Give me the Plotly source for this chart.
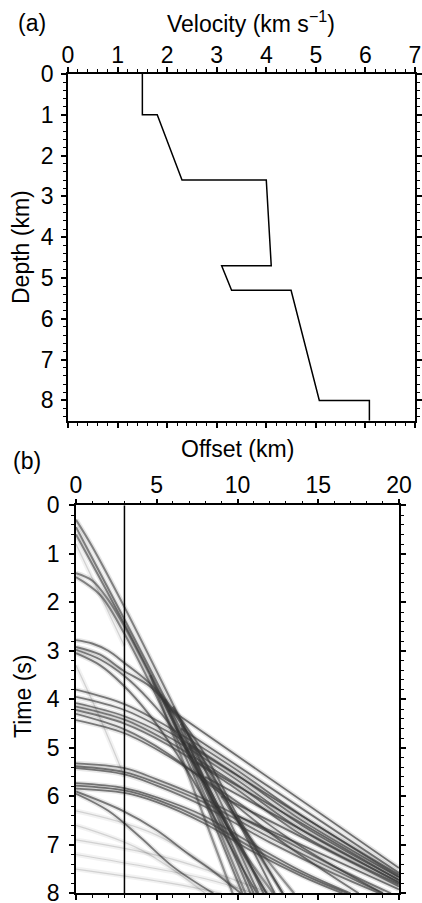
import plotly.graph_objects as go
from plotly.subplots import make_subplots

# (a) velocity profile
velocity = [1.5, 1.5, 1.8, 2.3, 4.0, 4.1, 3.1, 3.3, 4.5, 5.07, 6.08, 6.08]
depth = [0.0, 1.0, 1.0, 2.6, 2.6, 4.7, 4.7, 5.3, 5.3, 8.0, 8.0, 8.5]

receiver_offset = 3.0

steep_curves = [
    ([0, 1, 3, 6, 9, 11.6], [0.30, 0.85, 2.10, 4.10, 6.15, 8.0]),
    ([0, 3, 6, 9, 11.3], [0.45, 2.35, 4.30, 6.35, 8.0]),
    ([0, 3, 6, 9, 11.0], [0.60, 2.45, 4.40, 6.50, 8.0]),
    ([0, 1, 2, 3, 4.5, 6, 8, 10.8], [1.40, 1.55, 1.95, 2.50, 3.45, 4.45, 5.85, 8.0]),
    ([0, 1.5, 3, 5, 7, 10.3], [1.48, 1.85, 2.65, 3.95, 5.35, 8.0]),
]

cross_curves = [
    ([4.6, 7, 9.7], [3.5, 5.6, 8.0]),
    ([5.2, 8.5, 11.8], [3.9, 6.1, 8.0]),
    ([5.5, 8, 10.5], [4.0, 6.0, 8.0]),
    ([6, 9.5, 12.8], [4.15, 6.2, 8.0]),
    ([6.5, 9.0, 12.2], [4.5, 6.4, 8.0]),
    ([7, 10, 13.5], [4.9, 6.5, 8.0]),
]

shallow_reflections = [
    ([0, 1.5, 2.9, 4.6, 5.8, 8, 10, 12.3], [2.92, 3.08, 3.40, 3.74, 4.16, 5.30, 6.50, 8.0]),
    ([0, 1, 2, 3, 4.5, 6, 8, 10, 12.8], [2.78, 2.85, 3.00, 3.25, 3.65, 4.20, 5.15, 6.40, 8.0]),
    ([0, 1.5, 2.9, 4.5, 6, 8, 10, 11.2], [3.05, 3.30, 3.70, 4.30, 5.00, 6.10, 7.30, 8.0]),
    ([0, 1.5, 3, 4.5, 6, 8, 10, 11.8], [2.98, 3.18, 3.52, 4.00, 4.60, 5.70, 6.95, 8.0]),
]

mid_reflections = [
    ([0, 3, 5.6, 9.7, 14, 20], [3.80, 4.10, 4.55, 5.40, 6.40, 7.62]),
    ([0, 3, 5.6, 9.7, 14, 20], [3.95, 4.22, 4.65, 5.50, 6.50, 7.67]),
    ([0, 3, 5.6, 9.7, 14, 20], [4.08, 4.35, 4.75, 5.60, 6.60, 7.72]),
    ([0, 3, 5.6, 9.7, 14, 20], [4.15, 4.42, 4.85, 5.70, 6.70, 7.77]),
    ([0, 3, 5.6, 9.7, 14, 20], [4.22, 4.50, 4.92, 5.80, 6.80, 7.82]),
    ([0, 3, 5.6, 9.7, 14, 19], [4.43, 4.70, 5.15, 6.05, 7.05, 8.0]),
    ([0, 3, 5.6, 9, 13, 17.5], [4.30, 4.62, 5.10, 5.95, 7.00, 8.0]),
]

deep_reflections = [
    ([0, 3, 5, 7.9, 12, 16, 19.5], [5.32, 5.42, 5.65, 6.05, 6.75, 7.45, 8.0]),
    ([0, 3, 5, 7.9, 12, 16, 19], [5.38, 5.50, 5.72, 6.12, 6.85, 7.52, 8.0]),
    ([0, 3, 5, 7.9, 12, 16, 18.8], [5.42, 5.55, 5.78, 6.20, 6.95, 7.60, 8.0]),
    ([0, 3, 5, 7.9, 11, 14, 17], [5.73, 5.83, 6.02, 6.40, 7.00, 7.55, 8.0]),
    ([0, 3, 5, 7.9, 11, 14, 16.8], [5.78, 5.88, 6.07, 6.48, 7.08, 7.60, 8.0]),
    ([0, 3, 5, 7.9, 11, 14, 16.5], [5.84, 5.93, 6.12, 6.55, 7.15, 7.65, 8.0]),
    ([0, 2.9, 5, 7, 8.5, 10.2], [5.90, 6.30, 6.70, 7.20, 7.55, 8.0]),
    ([0, 2, 4, 6, 8.5], [5.95, 6.30, 6.85, 7.45, 8.0]),
]

faint_curves = [
    ([0, 4, 8], [6.6, 7.1, 8.0]),
    ([0, 5, 10], [6.3, 6.8, 7.9]),
    ([0, 6, 12], [6.9, 7.3, 8.0]),
    ([0, 8, 11], [7.2, 7.7, 8.0]),
    ([0, 6, 9], [7.5, 7.8, 8.0]),
    ([0, 1.5, 3], [0.8, 1.85, 2.9]),
    ([0, 1.5, 3], [3.3, 4.4, 5.6]),
]

refractions = [
    ([5.8, 20], [4.20, 7.48]),
    ([6.5, 20], [4.60, 7.58]),
    ([7.0, 20], [4.95, 7.66]),
    ([7.5, 20], [5.30, 7.73]),
    ([8.0, 20], [5.60, 7.79]),
    ([9.0, 20], [6.00, 7.86]),
    ([10.0, 20], [6.40, 7.92]),
]

W, H = 422, 903
FONT = "Liberation Sans, Arial, Helvetica, sans-serif"
FS = 23


def px_x(p):
    return p / W


def px_y(p):
    return 1 - p / H


fig = make_subplots(rows=2, cols=1)

fig.add_trace(go.Scatter(x=velocity, y=depth, mode="lines",
                         line=dict(color="black", width=1.5)), row=1, col=1)

# each arrival: a soft wide grey stroke plus a thinner grey core
families = [
    (faint_curves, 0.05, 0.18, 1.2),
    (cross_curves, 0.10, 0.50, 2.2),
    (steep_curves, 0.10, 0.60, 2.0),
    (shallow_reflections, 0.10, 0.65, 1.9),
    (mid_reflections, 0.09, 0.65, 1.8),
    (deep_reflections, 0.09, 0.65, 1.8),
    (refractions, 0.10, 0.70, 1.8),
]
for curves, soft, core, width in families:
    for xs, ts in curves:
        fig.add_trace(go.Scatter(x=xs, y=ts, mode="lines",
                                 line=dict(color=f"rgba(0,0,0,{soft})", width=5, shape="spline")),
                      row=2, col=1)
        fig.add_trace(go.Scatter(x=xs, y=ts, mode="lines",
                                 line=dict(color=f"rgba(60,60,60,{core})", width=width, shape="spline")),
                      row=2, col=1)

fig.add_trace(go.Scatter(x=[receiver_offset, receiver_offset], y=[0, 8], mode="lines",
                         line=dict(color="black", width=1.5)), row=2, col=1)

minor_style = dict(ticks="outside", ticklen=3, tickwidth=1.2, tickcolor="black")
axis_style = dict(showline=True, linecolor="black", linewidth=1.5, mirror="allticks",
                  ticks="outside", ticklen=5, tickwidth=1.5, tickcolor="black",
                  showgrid=False, zeroline=False, automargin=False, ticklabeloverflow="allow",
                  tickfont=dict(family=FONT, size=FS, color="black"))

fig.update_xaxes(axis_style)
fig.update_yaxes(axis_style)

fig.update_xaxes(row=1, col=1, domain=[px_x(68), px_x(415)], range=[0, 7.0001], dtick=1, side="top",
                 minor=dict(minor_style, dtick=0.2), ticklabelstandoff=-5)
fig.update_yaxes(row=1, col=1, domain=[px_y(420.8), px_y(74)], range=[8.5, 0], dtick=1,
                 minor=dict(minor_style, dtick=0.2), ticklabelstandoff=3)
fig.update_xaxes(row=2, col=1, domain=[px_x(76), px_x(399)], range=[0, 20.0001], dtick=5, side="top",
                 minor=dict(minor_style, dtick=1), ticklabelstandoff=-4)
fig.update_yaxes(row=2, col=1, domain=[px_y(893.3), px_y(505.3)], range=[8.0001, 0], dtick=1,
                 minor=dict(minor_style, dtick=0.2), ticklabelstandoff=5)

labels = [
    ("(a)", 32, 23, 0),
    ("Velocity (km s<sup>−1</sup>)", 251, 22, 0),
    ("Depth (km)", 21, 247, -90),
    ("(b)", 27, 461, 0),
    ("Offset (km)", 237, 449, 0),
    ("Time (s)", 23, 697, -90),
]
for text, x, y, angle in labels:
    fig.add_annotation(text=text, x=px_x(x), y=px_y(y), xref="paper", yref="paper",
                       showarrow=False, textangle=angle, xanchor="center", yanchor="middle",
                       font=dict(family=FONT, size=FS, color="black"))

fig.update_layout(width=W, height=H, margin=dict(l=0, r=0, t=0, b=0),
                  plot_bgcolor="white", paper_bgcolor="white", showlegend=False)

# page body has a default 8px margin; drop it so the figure sits at the window corner
fig.write_html("out.html", config={"displayModeBar": False},
               post_script="document.body.style.margin='0';")
